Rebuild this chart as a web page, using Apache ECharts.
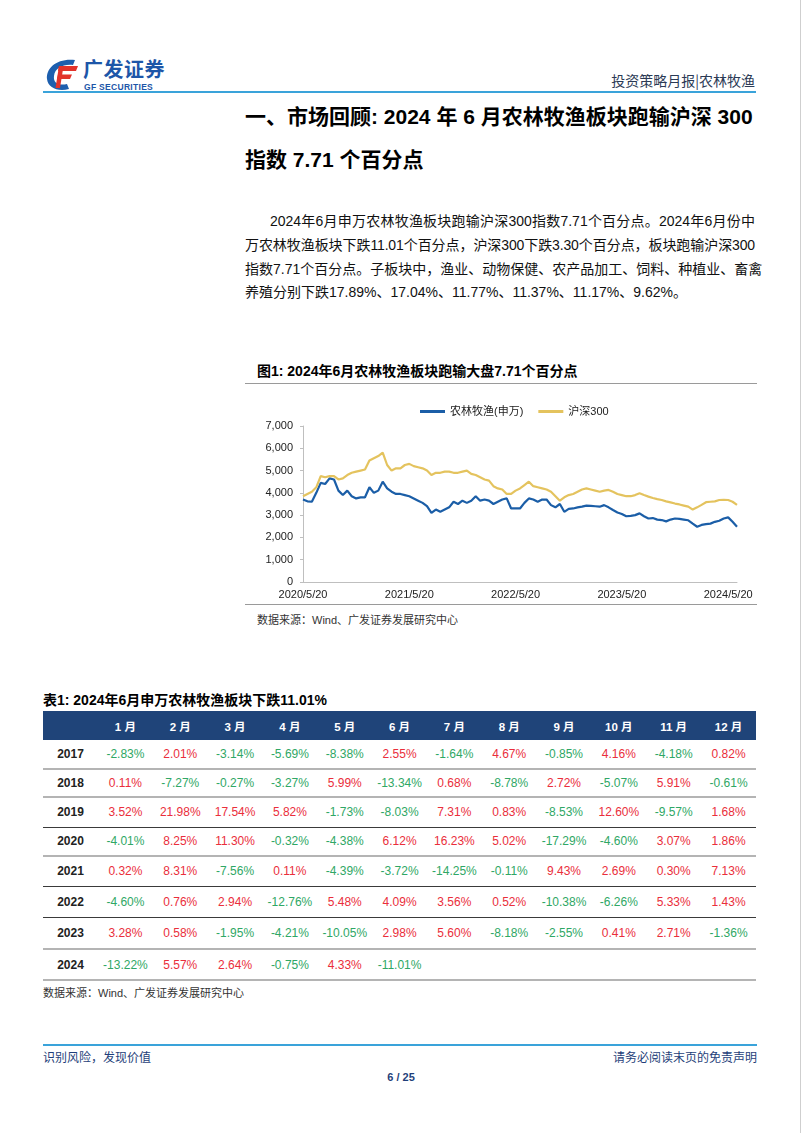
<!DOCTYPE html>
<html>
<head>
<meta charset="utf-8">
<script src="https://cdn.jsdelivr.net/npm/echarts@6/dist/echarts.min.js"></script>
<style>
  html, body { margin:0; padding:0; background:#fff; }
  body { width:802px; height:1133px; position:relative; overflow:hidden;
         font-family:"Liberation Sans", Arial, "Noto Sans CJK SC", sans-serif; color:#000; }
  .abs { position:absolute; white-space:nowrap; }
  .para { position:absolute; left:245px; width:510px; font-size:14px; line-height:18px; color:#111; white-space:nowrap; }
  .just { text-align:justify; text-align-last:justify; }
  table { border-collapse:collapse; table-layout:fixed; }
  td, th { padding:0; text-align:center; font-size:12px; }
</style>
</head>
<body>
<!-- logo -->
<svg class="abs" style="left:44px;top:57px;" width="36" height="36" viewBox="0 0 36 36">
  <path d="M31 3 C 13 1, 2 11, 3 22 C 4 31, 14 35, 25 32 L 23 27 C 15 29, 9 26, 10 19 C 11 11, 19 7, 29 8 Z" fill="#1d5fae"/>
  <path d="M15 9 L34 9 L32 14 L14 14 Z" fill="#e2332b"/>
  <path d="M14 17.5 L28 17.5 L26 22 L13 22 Z" fill="#e2332b"/>
  <path d="M15 9 L19.5 9 L16 31 L11.5 31 Z" fill="#e2332b"/>
</svg>
<div class="abs" style="left:83px;top:59px;font-size:20px;line-height:20px;font-weight:bold;color:#1d56a8;font-family:'Noto Sans CJK SC';letter-spacing:0.5px;">广发证券</div>
<div class="abs" style="left:84px;top:83px;font-size:8.5px;line-height:8px;font-weight:bold;color:#1d56a8;letter-spacing:0.3px;">GF SECURITIES</div>
<div class="abs" style="right:47px;top:71px;font-size:14px;line-height:18px;color:#2b3a55;font-family:'Noto Sans CJK SC';">投资策略月报|农林牧渔</div>
<div class="abs" style="left:43px;top:91px;width:713px;height:2px;background:#3aa3da;"></div>
<div class="abs" style="left:800px;top:0;width:1px;height:1133px;background:#cfcfcf;"></div>

<!-- title -->
<div class="abs" id="t1" style="left:245px;top:104px;font-size:21px;line-height:26px;font-weight:bold;">一、市场回顾: 2024 年 6 月农林牧渔板块跑输沪深 300</div>
<div class="abs" style="left:245px;top:147px;font-size:21px;line-height:26px;font-weight:bold;">指数 7.71 个百分点</div>

<!-- paragraph -->
<div class="para just" style="top:212px;padding-left:25px;width:485px;">2024年6月申万农林牧渔板块跑输沪深300指数7.71个百分点。2024年6月份中</div>
<div class="para just" style="top:236px;letter-spacing:-0.15px;">万农林牧渔板块下跌11.01个百分点，沪深300下跌3.30个百分点，板块跑输沪深300</div>
<div class="para just" style="top:260px;">指数7.71个百分点。子板块中，渔业、动物保健、农产品加工、饲料、种植业、畜禽</div>
<div class="para" style="top:283px;">养殖分别下跌17.89%、17.04%、11.77%、11.37%、11.17%、9.62%。</div>

<!-- figure -->
<div class="abs" style="left:257px;top:362px;font-size:14px;line-height:18px;font-weight:bold;">图1: 2024年6月农林牧渔板块跑输大盘7.71个百分点</div>
<div class="abs" style="left:245px;top:383px;width:512px;height:1px;background:#9a9a9a;"></div>
<div id="chart" class="abs" style="left:240px;top:395px;width:530px;height:208px;"></div>
<div class="abs" style="left:245px;top:604px;width:512px;height:1px;background:#9a9a9a;"></div>
<div class="abs" style="left:257px;top:612px;font-size:11px;line-height:16px;color:#333;">数据来源：Wind、广发证券发展研究中心</div>

<!-- table -->
<div class="abs" style="left:43px;top:691px;font-size:14px;line-height:18px;font-weight:bold;">表1: 2024年6月申万农林牧渔板块下跌11.01%</div>
<table id="tbl" class="abs" style="left:43px;top:711px;width:713px;"></table>
<div class="abs" style="left:43px;top:985px;font-size:11px;line-height:16px;color:#333;">数据来源：Wind、广发证券发展研究中心</div>

<!-- footer -->
<div class="abs" style="left:43px;top:1044px;width:714px;height:2px;background:#3aa3da;"></div>
<div class="abs" style="left:43px;top:1049px;font-size:12px;line-height:16px;color:#1f3f7a;font-family:'Noto Sans CJK SC';">识别风险，发现价值</div>
<div class="abs" style="right:45px;top:1049px;font-size:12px;line-height:16px;color:#1f3f7a;font-family:'Noto Sans CJK SC';">请务必阅读末页的免责声明</div>
<div class="abs" style="left:0;width:802px;text-align:center;top:1070px;font-size:11px;line-height:14px;font-weight:bold;color:#1f3f7a;">6 / 25</div>

<script>
// ---------- chart data ----------
const dates = [
 "2020/5/20","2020/6/5","2020/6/20","2020/7/5","2020/7/20","2020/8/5","2020/8/20","2020/9/5","2020/9/20","2020/10/5",
 "2020/10/20","2020/11/5","2020/11/20","2020/12/5","2020/12/20",
 "2021/1/5","2021/1/20","2021/2/5","2021/2/20","2021/3/5","2021/3/20","2021/4/5","2021/4/20","2021/5/5","2021/5/20",
 "2021/6/5","2021/6/20","2021/7/5","2021/7/20","2021/8/5","2021/8/20","2021/9/5","2021/9/20","2021/10/5","2021/10/20",
 "2021/11/5","2021/11/20","2021/12/5","2021/12/20",
 "2022/1/5","2022/1/20","2022/2/5","2022/2/20","2022/3/5","2022/3/20","2022/4/5","2022/4/20","2022/5/5","2022/5/20",
 "2022/6/5","2022/6/20","2022/7/5","2022/7/20","2022/8/5","2022/8/20","2022/9/5","2022/9/20","2022/10/5","2022/10/20",
 "2022/11/5","2022/11/20","2022/12/5","2022/12/20",
 "2023/1/5","2023/1/20","2023/2/5","2023/2/20","2023/3/5","2023/3/20","2023/4/5","2023/4/20","2023/5/5","2023/5/20",
 "2023/6/5","2023/6/20","2023/7/5","2023/7/20","2023/8/5","2023/8/20","2023/9/5","2023/9/20","2023/10/5","2023/10/20",
 "2023/11/5","2023/11/20","2023/12/5","2023/12/20",
 "2024/1/5","2024/1/20","2024/2/5","2024/2/20","2024/3/5","2024/3/20","2024/4/5","2024/4/20","2024/5/5","2024/5/20",
 "2024/6/5","2024/6/28"
];
const agriIndex = [
 3700,3620,3600,4000,4450,4400,4650,4600,4100,3900,
 4100,3850,3750,3800,3800,4250,4000,4100,4500,4200,
 4050,3950,3950,3900,3850,3750,3650,3550,3400,3100,
 3250,3150,3250,3350,3600,3500,3650,3550,3650,3850,
 3650,3700,3650,3500,3600,3700,3750,3300,3300,3300,
 3550,3750,3700,3600,3700,3700,3450,3350,3500,3150,
 3280,3300,3350,3380,3430,3420,3400,3380,3450,3350,
 3230,3120,3050,2950,2970,3000,3080,2950,2850,2870,
 2800,2780,2720,2800,2850,2830,2800,2770,2620,2480,
 2560,2600,2620,2700,2750,2850,2900,2700,2480
];
const hs300 = [
 3850,3950,4050,4250,4750,4700,4750,4750,4600,4650,
 4800,4900,4950,5000,5050,5450,5550,5650,5800,5250,
 5000,5100,5100,5250,5300,5200,5150,5100,5000,4800,
 4900,4900,4950,4950,4900,4900,4950,5000,4850,4800,
 4700,4600,4550,4300,4200,4150,3950,3950,4100,4200,
 4350,4500,4300,4250,4200,4150,4050,3850,3650,3800,
 3900,3950,4050,4150,4200,4150,4100,4050,4100,4130,
 4050,3950,3900,3850,3850,3900,3980,3900,3830,3770,
 3720,3680,3620,3570,3520,3480,3430,3380,3250,3350,
 3460,3580,3600,3620,3680,3690,3680,3600,3460
];
const seriesNames = ["农林牧渔(申万)", "沪深300"];

// ---------- table data ----------
const months = ["1 月","2 月","3 月","4 月","5 月","6 月","7 月","8 月","9 月","10 月","11 月","12 月"];
const years = ["2017","2018","2019","2020","2021","2022","2023","2024"];
const r2017 = ["-2.83%","2.01%","-3.14%","-5.69%","-8.38%","2.55%","-1.64%","4.67%","-0.85%","4.16%","-4.18%","0.82%"];
const r2018 = ["0.11%","-7.27%","-0.27%","-3.27%","5.99%","-13.34%","0.68%","-8.78%","2.72%","-5.07%","5.91%","-0.61%"];
const r2019 = ["3.52%","21.98%","17.54%","5.82%","-1.73%","-8.03%","7.31%","0.83%","-8.53%","12.60%","-9.57%","1.68%"];
const r2020 = ["-4.01%","8.25%","11.30%","-0.32%","-4.38%","6.12%","16.23%","5.02%","-17.29%","-4.60%","3.07%","1.86%"];
const r2021 = ["0.32%","8.31%","-7.56%","0.11%","-4.39%","-3.72%","-14.25%","-0.11%","9.43%","2.69%","0.30%","7.13%"];
const r2022 = ["-4.60%","0.76%","2.94%","-12.76%","5.48%","4.09%","3.56%","0.52%","-10.38%","-6.26%","5.33%","1.43%"];
const r2023 = ["3.28%","0.58%","-1.95%","-4.21%","-10.05%","2.98%","5.60%","-8.18%","-2.55%","0.41%","2.71%","-1.36%"];
const r2024 = ["-13.22%","5.57%","2.64%","-0.75%","4.33%","-11.01%"];
const tableRows = [r2017,r2018,r2019,r2020,r2021,r2022,r2023,r2024];

// ---------- build table ----------
(function(){
  const rowH = [29,28,30,29,30,31,32,31];
  const lineStyle = ["2px solid #b4b4b4","2px solid #b4b4b4","1.5px solid #3a3a3a","2px solid #b4b4b4",
                     "1.5px solid #3a3a3a","1.5px solid #3a3a3a","2px solid #b4b4b4","2px solid #b4b4b4"];
  const t = document.getElementById('tbl');
  let html = '<colgroup><col style="width:55px">';
  for (let i=0;i<12;i++) html += '<col style="width:54.83px">';
  html += '</colgroup>';
  html += '<tr style="height:29px;background:#1f4479;">';
  html += '<th></th>';
  months.forEach(m => { html += '<th style="color:#fff;font-weight:bold;font-size:11.5px;">' + m + '</th>'; });
  html += '</tr>';
  years.forEach((y, r) => {
    html += '<tr style="height:' + rowH[r] + 'px;border-bottom:' + lineStyle[r] + ';">';
    html += '<td style="font-weight:bold;color:#222;font-size:12px;">' + y + '</td>';
    for (let c=0;c<12;c++) {
      const v = tableRows[r][c];
      if (v === undefined) { html += '<td></td>'; continue; }
      const col = v.charAt(0) === '-' ? '#2fa765' : '#ea2e3b';
      html += '<td style="color:' + col + ';">' + v + '</td>';
    }
    html += '</tr>';
  });
  t.innerHTML = html;
})();

// ---------- chart ----------
const chart = echarts.init(document.getElementById('chart'), null, {renderer:'canvas'});
chart.setOption({
  animation:false,
  textStyle:{fontFamily:'"Liberation Sans", Arial, "Noto Sans CJK SC", sans-serif'},
  legend:{
    data:seriesNames, left:175, top:6, icon:'rect', itemWidth:25, itemHeight:3, itemGap:15,
    textStyle:{fontSize:11, color:'#222'}
  },
  grid:{left:63, right:33, top:31, bottom:21},
  xAxis:{
    type:'category', data:dates, boundaryGap:false,
    axisLine:{lineStyle:{color:'#bfbfbf', width:1}},
    axisTick:{show:false},
    axisLabel:{
      interval:function(idx, val){ return /\/5\/20$/.test(val); },
      color:'#222', fontSize:11, margin:7, hideOverlap:false
    }
  },
  yAxis:{
    type:'value', min:0, max:7000, interval:1000,
    axisLine:{show:true, lineStyle:{color:'#bfbfbf'}},
    axisTick:{show:true, length:3, lineStyle:{color:'#bfbfbf'}},
    splitLine:{show:false},
    axisLabel:{color:'#222', fontSize:11, margin:10,
      formatter:function(v){ return String(v).replace(/\B(?=(\d{3})+(?!\d))/g, ','); }}
  },
  series:[
    {name:seriesNames[0], type:'line', data:agriIndex, showSymbol:false, symbol:'none',
     lineStyle:{color:'#1b5ea7', width:2.2}, itemStyle:{color:'#1b5ea7'}},
    {name:seriesNames[1], type:'line', data:hs300, showSymbol:false, symbol:'none',
     lineStyle:{color:'#e4c35e', width:2.2}, itemStyle:{color:'#e4c35e'}}
  ]
});
</script>
</body>
</html>
